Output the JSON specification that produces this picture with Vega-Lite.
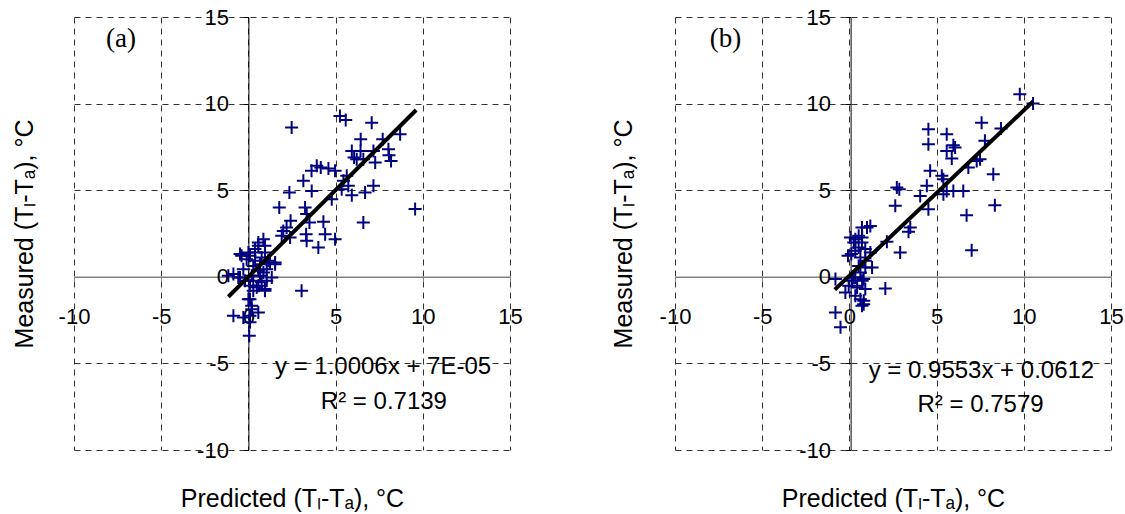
{
  "$schema": "https://vega.github.io/schema/vega-lite/v6.json",
  "background": "white",
  "padding": {"left": 12, "top": 6, "right": 0, "bottom": 0},
  "bounds": "flush",
  "spacing": 165,
  "config": {
    "view": {"stroke": null},
    "axis": {
      "grid": true,
      "gridDash": [6, 5],
      "gridColor": "#333333",
      "gridWidth": 1,
      "tickSize": 5,
      "labelFont": "Liberation Sans",
      "labelFontSize": 22,
      "labelColor": "black",
      "labelFlush": false,
      "labelOverlap": false,
      "titleFont": "Liberation Sans",
      "titleFontSize": 25,
      "titleFontWeight": "normal",
      "titleColor": "black"
    }
  },
  "datasets": {
    "pa": [
      {"x": 5.25, "y": 9.29}, {"x": 5.58, "y": 9.06}, {"x": 7.07, "y": 8.9}, {"x": 2.48, "y": 8.62},
      {"x": 6.44, "y": 7.94}, {"x": 7.7, "y": 7.94}, {"x": 8.7, "y": 8.23}, {"x": 5.93, "y": 7.27},
      {"x": 6.43, "y": 7.27}, {"x": 7.17, "y": 7.27}, {"x": 8.03, "y": 7.36}, {"x": 6.06, "y": 6.89},
      {"x": 6.59, "y": 6.79}, {"x": 6.21, "y": 6.79}, {"x": 7.27, "y": 6.6}, {"x": 8.18, "y": 6.69},
      {"x": 8.06, "y": 7.02}, {"x": 3.92, "y": 6.41}, {"x": 4.59, "y": 6.25}, {"x": 3.62, "y": 6.12},
      {"x": 4.97, "y": 6.12}, {"x": 4.15, "y": 6.31}, {"x": 5.64, "y": 5.83}, {"x": 5.45, "y": 5.54},
      {"x": 5.73, "y": 5.25}, {"x": 5.35, "y": 5.06}, {"x": 5.93, "y": 4.71}, {"x": 7.17, "y": 5.25},
      {"x": 6.69, "y": 4.87}, {"x": 3.15, "y": 5.54}, {"x": 2.35, "y": 4.87}, {"x": 3.63, "y": 4.96},
      {"x": 4.78, "y": 4.48}, {"x": 1.77, "y": 4.0}, {"x": 9.56, "y": 3.91}, {"x": 3.25, "y": 4.0},
      {"x": 3.34, "y": 3.62}, {"x": 6.59, "y": 3.14}, {"x": 2.42, "y": 3.23}, {"x": 2.19, "y": 2.85},
      {"x": 3.5, "y": 3.14}, {"x": 4.3, "y": 3.18}, {"x": 1.91, "y": 2.37}, {"x": 2.39, "y": 2.27},
      {"x": 3.31, "y": 2.46}, {"x": 4.4, "y": 2.46}, {"x": 4.97, "y": 2.17}, {"x": 3.34, "y": 2.08},
      {"x": 4.01, "y": 1.69}, {"x": 3.05, "y": -0.81}, {"x": 0.86, "y": 2.17}, {"x": 0.57, "y": 1.79},
      {"x": -0.48, "y": 1.31}, {"x": 0.09, "y": 1.21}, {"x": 0.38, "y": 1.4}, {"x": 0.95, "y": 1.4},
      {"x": 0.76, "y": 1.12}, {"x": 1.24, "y": 0.83}, {"x": 1.53, "y": 0.83}, {"x": 1.05, "y": 0.44},
      {"x": 0.28, "y": 0.63}, {"x": 0.57, "y": 0.35}, {"x": -0.86, "y": 0.16}, {"x": -1.15, "y": 0.06},
      {"x": -0.48, "y": -0.04}, {"x": 0.19, "y": 0.06}, {"x": 0.67, "y": 0.06}, {"x": 0.28, "y": -0.23},
      {"x": 0.76, "y": -0.32}, {"x": 1.05, "y": -0.23}, {"x": 0.09, "y": -0.52}, {"x": 0.95, "y": -0.71},
      {"x": 0.09, "y": -1.29}, {"x": 0.19, "y": -1.87}, {"x": -0.86, "y": -2.25}, {"x": 0.09, "y": -2.25},
      {"x": 0.09, "y": -2.63}, {"x": 0.05, "y": -3.4}, {"x": -0.29, "y": 0.44}, {"x": -0.1, "y": 1.02},
      {"x": 0.38, "y": 0.92}, {"x": 0.67, "y": 0.73}, {"x": 0.86, "y": 0.25}, {"x": -0.19, "y": -0.23},
      {"x": 0.48, "y": -0.61}, {"x": 0.57, "y": 1.98}, {"x": 0.95, "y": 1.79}, {"x": -0.29, "y": -2.35},
      {"x": -0.39, "y": 1.21}, {"x": 0.0, "y": 1.41}, {"x": 0.38, "y": 1.6}, {"x": 1.14, "y": 0.92},
      {"x": 1.53, "y": 0.73}, {"x": -0.58, "y": -0.04}, {"x": 0.57, "y": -0.52}, {"x": 0.95, "y": -0.81},
      {"x": 0.28, "y": -0.81}, {"x": 0.0, "y": -1.29}, {"x": 0.19, "y": -1.67}, {"x": 0.57, "y": -2.06},
      {"x": 1.34, "y": -0.04}, {"x": 2.0, "y": 2.65}
    ],
    "pb": [
      {"x": 9.77, "y": 10.54}, {"x": 10.53, "y": 10.0}, {"x": 7.58, "y": 8.9}, {"x": 8.69, "y": 8.56},
      {"x": 4.53, "y": 8.52}, {"x": 5.58, "y": 8.23}, {"x": 4.53, "y": 7.65}, {"x": 7.77, "y": 7.85},
      {"x": 5.96, "y": 7.6}, {"x": 5.58, "y": 7.27}, {"x": 6.06, "y": 7.46}, {"x": 5.87, "y": 6.83},
      {"x": 7.3, "y": 6.69}, {"x": 6.82, "y": 6.31}, {"x": 7.49, "y": 6.79}, {"x": 4.63, "y": 6.12},
      {"x": 5.3, "y": 5.83}, {"x": 5.39, "y": 5.63}, {"x": 8.25, "y": 5.92}, {"x": 2.72, "y": 5.15},
      {"x": 2.86, "y": 5.06}, {"x": 4.44, "y": 5.25}, {"x": 4.06, "y": 4.67}, {"x": 2.63, "y": 4.1},
      {"x": 4.53, "y": 3.9}, {"x": 5.58, "y": 4.96}, {"x": 5.39, "y": 4.77}, {"x": 5.96, "y": 4.96},
      {"x": 6.53, "y": 4.96}, {"x": 8.34, "y": 4.13}, {"x": 6.72, "y": 3.56}, {"x": 3.49, "y": 2.85},
      {"x": 3.39, "y": 2.6}, {"x": 2.15, "y": 2.02}, {"x": 2.91, "y": 1.4}, {"x": 7.01, "y": 1.54},
      {"x": 2.06, "y": -0.67}, {"x": 0.72, "y": 2.85}, {"x": 1.2, "y": 2.94}, {"x": 0.06, "y": 2.27},
      {"x": 0.53, "y": 2.37}, {"x": 0.25, "y": 1.98}, {"x": 0.72, "y": 1.98}, {"x": -0.08, "y": 1.21},
      {"x": 0.34, "y": 1.5}, {"x": 0.91, "y": 1.6}, {"x": 1.2, "y": 1.4}, {"x": 0.63, "y": 1.12},
      {"x": 0.91, "y": 0.54}, {"x": 0.63, "y": 0.25}, {"x": -0.8, "y": -0.13}, {"x": 0.15, "y": -0.23},
      {"x": -0.04, "y": -0.52}, {"x": 0.44, "y": -0.62}, {"x": 0.82, "y": -0.13}, {"x": 0.91, "y": -0.71},
      {"x": 0.34, "y": -1.1}, {"x": 0.82, "y": -1.38}, {"x": 0.72, "y": -1.67}, {"x": -0.8, "y": -2.06},
      {"x": -0.51, "y": -2.92}, {"x": 0.25, "y": -0.04}, {"x": -0.23, "y": -0.9}, {"x": 0.53, "y": 0.63},
      {"x": 0.91, "y": 0.92}, {"x": 0.11, "y": 1.31},
      {"x": 1.01, "y": 2.85}, {"x": 0.34, "y": 2.17}, {"x": 0.73, "y": 2.27}, {"x": 0.53, "y": 1.69},
      {"x": 1.3, "y": 0.54}, {"x": 0.34, "y": -0.04}, {"x": 0.73, "y": -0.23}, {"x": 0.44, "y": -0.52},
      {"x": 0.63, "y": -1.29}, {"x": 0.82, "y": -1.58}
    ],
    "fa": [{"x": -1.15, "y": -1.15}, {"x": 9.62, "y": 9.63}],
    "fb": [{"x": -0.84, "y": -0.74}, {"x": 10.53, "y": 10.12}],
    "ta": [
      {"x": 7.72, "y": -5.19, "label": "y = 1.0006x + 7E-05"},
      {"x": 7.77, "y": -7.2, "label": "R² = 0.7139"}
    ],
    "tb": [
      {"x": 7.57, "y": -5.41, "label": "y = 0.9553x + 0.0612"},
      {"x": 7.52, "y": -7.43, "label": "R² = 0.7579"}
    ],
    "la": [{"x": -7.3, "y": 13.75, "label": "(a)"}],
    "lb": [{"x": -7.1, "y": 13.75, "label": "(b)"}]
  },
  "hconcat": [
    {
      "width": 436,
      "height": 433,
      "encoding": {
        "x": {
          "field": "x", "type": "quantitative",
          "scale": {"domain": [-10, 15], "nice": false, "zero": false},
          "axis": {
            "values": [-10, -5, 0, 5, 10, 15],
            "labelExpr": "'' + datum.value",
            "offset": -173.3,
            "domainColor": "#808080", "domainWidth": 1.5, "tickColor": "#808080",
            "labelPadding": 25,
            "title": "Predicted (Tₗ-Tₐ), °C",
            "titleX": 218, "titleY": 222, "titleBaseline": "middle", "titleAlign": "center"
          }
        },
        "y": {
          "field": "y", "type": "quantitative",
          "scale": {"domain": [-10, 15], "nice": false, "zero": false},
          "axis": {
            "values": [-10, -5, 0, 5, 10, 15],
            "labelExpr": "'' + datum.value",
            "offset": -174.4,
            "domainColor": "black", "domainWidth": 1, "tickColor": "black",
            "labelPadding": 15,
            "title": "Measured (Tₗ-Tₐ), °C",
            "titleX": -224.4, "titleY": 216.5, "titleBaseline": "middle", "titleAlign": "center", "titleAngle": -90
          }
        }
      },
      "layer": [
        {
          "data": {"name": "pa"},
          "mark": {"type": "point", "shape": "M-1,0H1M0,-1V1", "filled": false, "size": 169, "stroke": "#000080", "strokeWidth": 2, "opacity": 1}
        },
        {
          "data": {"name": "fa"},
          "mark": {"type": "line", "color": "black", "strokeWidth": 4}
        },
        {
          "data": {"name": "ta"},
          "mark": {"type": "text", "font": "Liberation Sans", "fontSize": 24, "align": "center", "baseline": "middle", "color": "black"},
          "encoding": {"text": {"field": "label"}}
        },
        {
          "data": {"name": "la"},
          "mark": {"type": "text", "font": "Liberation Serif", "fontSize": 27, "align": "center", "baseline": "middle", "color": "black"},
          "encoding": {"text": {"field": "label"}}
        }
      ]
    },
    {
      "width": 436,
      "height": 433,
      "encoding": {
        "x": {
          "field": "x", "type": "quantitative",
          "scale": {"domain": [-10, 15], "nice": false, "zero": false},
          "axis": {
            "values": [-10, -5, 0, 5, 10, 15],
            "labelExpr": "'' + datum.value",
            "offset": -173.3,
            "domainColor": "#808080", "domainWidth": 1.5, "tickColor": "#808080",
            "labelPadding": 25,
            "title": "Predicted (Tₗ-Tₐ), °C",
            "titleX": 218, "titleY": 222, "titleBaseline": "middle", "titleAlign": "center"
          }
        },
        "y": {
          "field": "y", "type": "quantitative",
          "scale": {"domain": [-10, 15], "nice": false, "zero": false},
          "axis": {
            "values": [-10, -5, 0, 5, 10, 15],
            "labelExpr": "'' + datum.value",
            "offset": -175.6,
            "domainColor": "black", "domainWidth": 1, "tickColor": "black",
            "labelPadding": 15,
            "title": "Measured (Tₗ-Tₐ), °C",
            "titleX": -227, "titleY": 216.5, "titleBaseline": "middle", "titleAlign": "center", "titleAngle": -90
          }
        }
      },
      "layer": [
        {
          "data": {"name": "pb"},
          "mark": {"type": "point", "shape": "M-1,0H1M0,-1V1", "filled": false, "size": 169, "stroke": "#000080", "strokeWidth": 2, "opacity": 1}
        },
        {
          "data": {"name": "fb"},
          "mark": {"type": "line", "color": "black", "strokeWidth": 4}
        },
        {
          "data": {"name": "tb"},
          "mark": {"type": "text", "font": "Liberation Sans", "fontSize": 24, "align": "center", "baseline": "middle", "color": "black"},
          "encoding": {"text": {"field": "label"}}
        },
        {
          "data": {"name": "lb"},
          "mark": {"type": "text", "font": "Liberation Serif", "fontSize": 27, "align": "center", "baseline": "middle", "color": "black"},
          "encoding": {"text": {"field": "label"}}
        }
      ]
    }
  ]
}
